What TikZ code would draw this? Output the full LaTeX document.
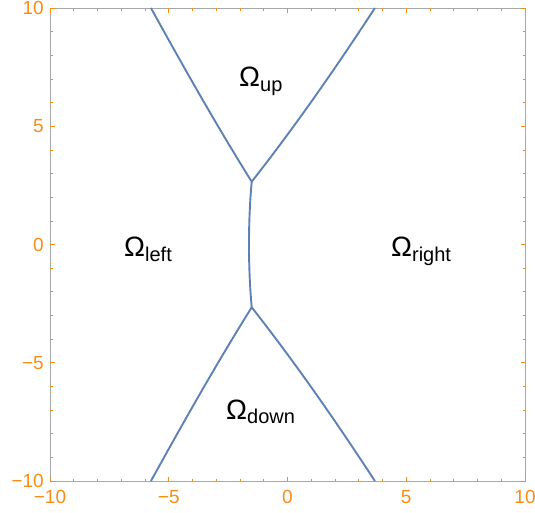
\documentclass[tikz,border=0pt]{standalone}
\usepackage{fontspec}
\setmainfont{Liberation Sans}
\definecolor{curvec}{HTML}{5E81B5}
\definecolor{tickc}{RGB}{248,140,20}
\definecolor{framec}{HTML}{A8A8A8}
\begin{document}
\begin{tikzpicture}[x=1pt,y=-1pt,
  curveline/.style={draw=curvec, line width=1.9pt, line join=round},
  tickline/.style={draw=tickc, line width=0.7pt},
  ticklab/.style={text=tickc, font=\fontsize{19}{19}\selectfont, inner sep=0pt},
  omega/.style={font=\fontsize{28}{28}\selectfont, inner sep=0pt, anchor=base west}]
\useasboundingbox (0,0) rectangle (535,512);
\begin{scope}[shift={(287.5,244.5)}, x=23.75pt, y=23.65pt]
  % frame
  \draw[framec, line width=1pt] (-10,-10) rectangle (10,10);
  % minor ticks
  \foreach \v in {-9,...,9} {
    \draw[tickline] (\v,-10) -- ++(0pt,2.5pt);
    \draw[tickline] (\v,10) -- ++(0pt,-2.5pt);
    \draw[tickline] (-10,\v) -- ++(2.5pt,0pt);
    \draw[tickline] (10,\v) -- ++(-2.5pt,0pt);
  }
  % major ticks and labels
  \foreach \v/\t [count=\k] in {-10/−10,-5/−5,0/0,5/5,10/10} {
    \draw[tickline] (\v,-10) -- ++(0pt,4.5pt);
    \draw[tickline] (\v,10) -- ++(0pt,-4.5pt);
    \draw[tickline] (-10,\v) -- ++(4.5pt,0pt);
    \draw[tickline] (10,\v) -- ++(-4.5pt,0pt);
    \node[ticklab, anchor=north] (xl\k) at ([yshift=-9pt]\v,-10) {\t};
    \node[ticklab, anchor=east] (yl\k) at ([xshift=-6pt]-10,\v) {\t};
  }
  % triple points
  \coordinate (tu) at (-1.507,2.655);
  \coordinate (td) at (-1.507,-2.655);
  \coordinate (ulend) at (-5.75,10);
  \coordinate (urend) at (3.68,10);
  \coordinate (dlend) at (-5.75,-10);
  \coordinate (drend) at (3.68,-10);
  % curves
  \draw[curveline] (ulend) .. controls (-4.40,7.55) and (-3.03,5.105) .. (tu);
  \draw[curveline] (tu) .. controls (0.404,5.105) and (2.088,7.55) .. (urend);
  \draw[curveline] (dlend) .. controls (-4.40,-7.55) and (-3.03,-5.105) .. (td);
  \draw[curveline] (td) .. controls (0.404,-5.105) and (2.088,-7.55) .. (drend);
  \draw[curveline] (tu) .. controls (-1.66,1.0) and (-1.66,-1.0) .. (td);
\end{scope}
% region labels
\node[omega] (up) at (239,86.7) {Ω\raisebox{-4.5pt}{\fontsize{20}{20}\selectfont up}};
\node[omega] (left) at (124,256.7) {Ω\raisebox{-4.5pt}{\fontsize{20}{20}\selectfont left}};
\node[omega] (right) at (391,256.7) {Ω\raisebox{-4.5pt}{\fontsize{20}{20}\selectfont right}};
\node[omega] (down) at (226,419.3) {Ω\raisebox{-4.5pt}{\fontsize{20}{20}\selectfont down}};
\end{tikzpicture}
\end{document}
